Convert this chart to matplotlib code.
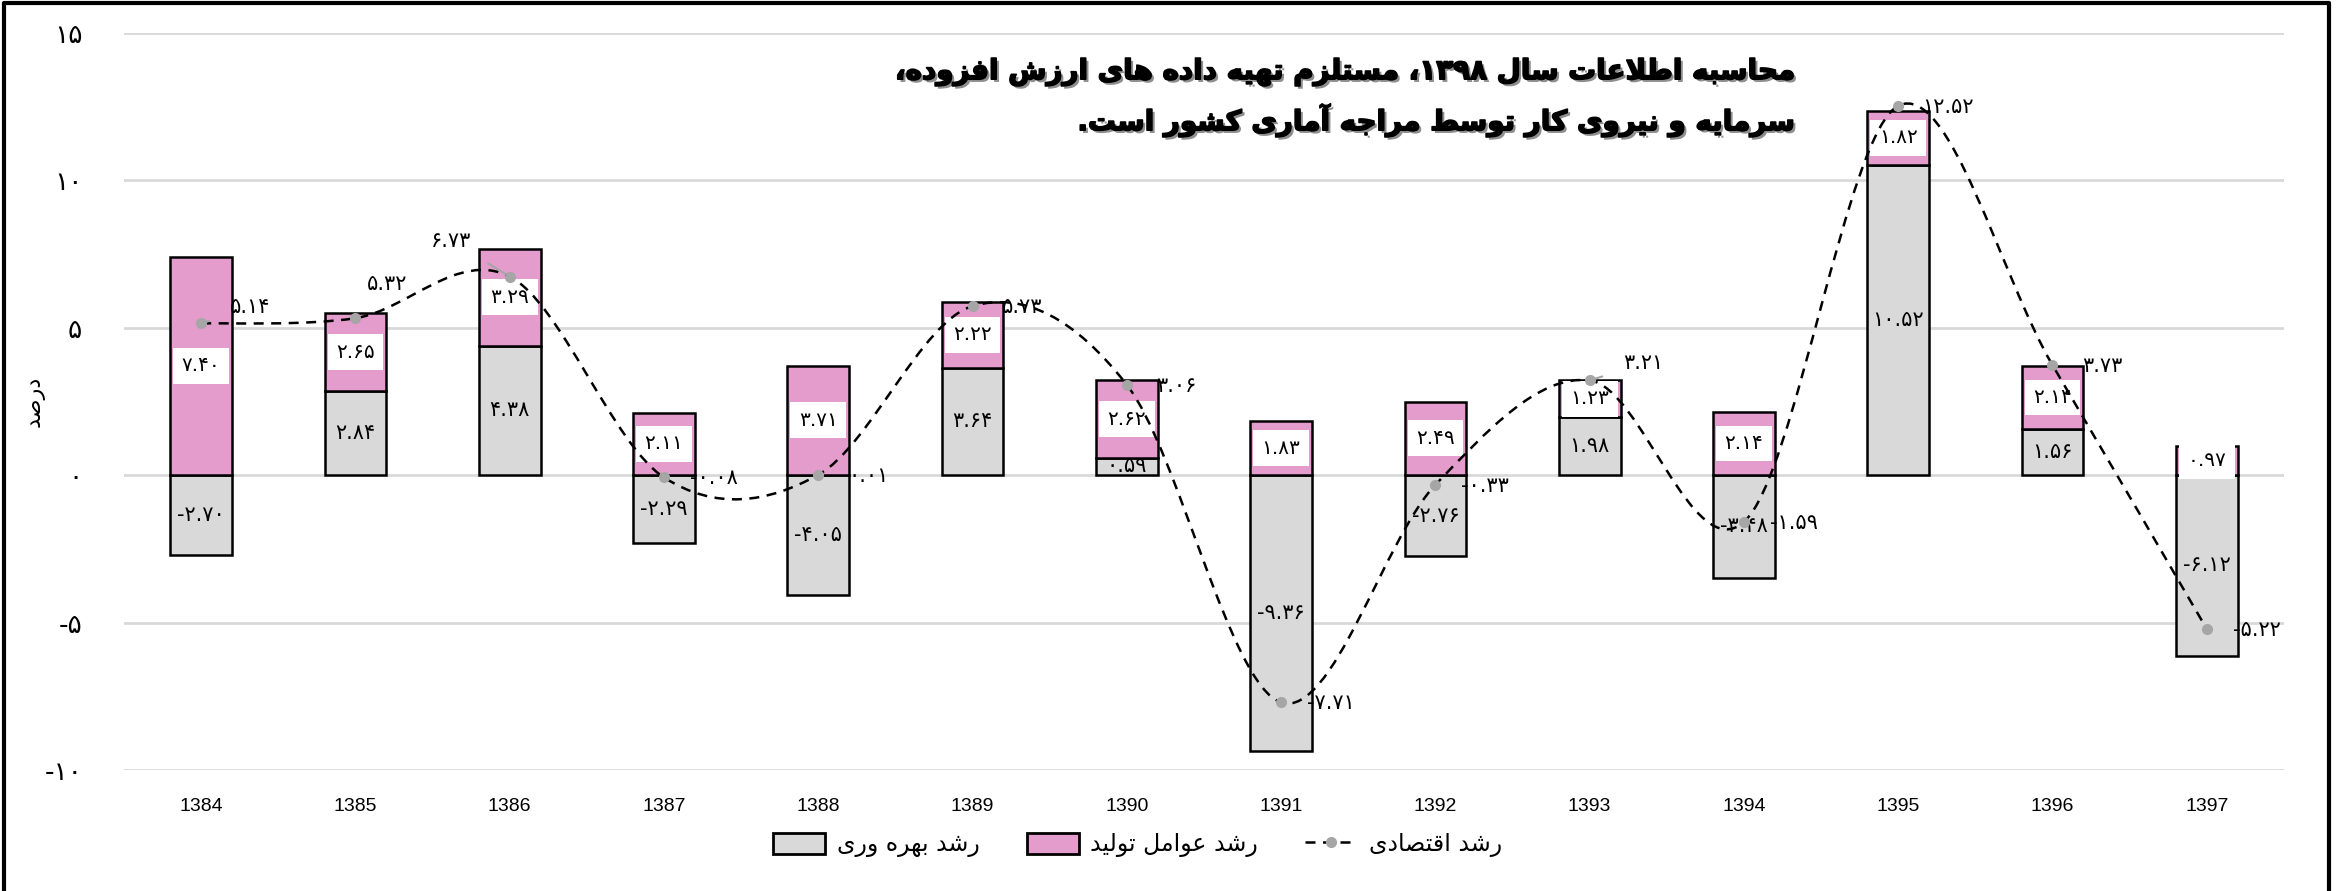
import re
import numpy as np
import matplotlib
matplotlib.use('Agg')
import matplotlib.pyplot as plt
import matplotlib.patheffects as pe
from matplotlib.path import Path
from matplotlib.patches import PathPatch, Patch
from matplotlib.lines import Line2D

# data
years = ['1384', '1385', '1386', '1387', '1388', '1389', '1390',
         '1391', '1392', '1393', '1394', '1395', '1396', '1397']
productivity = [-2.70, 2.84, 4.38, -2.29, -4.05, 3.64, 0.59,
                -9.36, -2.76, 1.98, -3.48, 10.52, 1.56, -6.12]
factors = [7.40, 2.65, 3.29, 2.11, 3.71, 2.22, 2.62,
           1.83, 2.49, 1.23, 2.14, 1.82, 2.14, 0.97]
economic = [5.14, 5.32, 6.73, -0.08, 0.01, 5.73, 3.06,
            -7.71, -0.33, 3.21, -1.59, 12.52, 3.73, -5.22]
y_ticks = [-10, -5, 0, 5, 10, 15]

name_productivity = 'رشد بهره وری'
name_factors = 'رشد عوامل تولید'
name_economic = 'رشد اقتصادی'
y_title = 'درصد'
title_lines = ['محاسبه اطلاعات سال ۱۳۹۸، مستلزم تهیه داده های ارزش افزوده،',
               'سرمایه و نیروی کار توسط مراجه آماری کشور است.']

GRAY = '#d9d9d9'
PINK = '#e49ccd'
MARK = '#a6a6a6'

# --- minimal persian shaping (matplotlib has no bidi / joining) ---
FORMS = {
    'ا': ('\uFE8D', '\uFE8E', None, None),
    'آ': ('\uFE81', '\uFE82', None, None),
    'ب': ('\uFE8F', '\uFE90', '\uFE91', '\uFE92'),
    'ت': ('\uFE95', '\uFE96', '\uFE97', '\uFE98'),
    'ج': ('\uFE9D', '\uFE9E', '\uFE9F', '\uFEA0'),
    'ح': ('\uFEA1', '\uFEA2', '\uFEA3', '\uFEA4'),
    'د': ('\uFEA9', '\uFEAA', None, None),
    'ر': ('\uFEAD', '\uFEAE', None, None),
    'ز': ('\uFEAF', '\uFEB0', None, None),
    'س': ('\uFEB1', '\uFEB2', '\uFEB3', '\uFEB4'),
    'ش': ('\uFEB5', '\uFEB6', '\uFEB7', '\uFEB8'),
    'ص': ('\uFEB9', '\uFEBA', '\uFEBB', '\uFEBC'),
    'ط': ('\uFEC1', '\uFEC2', '\uFEC3', '\uFEC4'),
    'ع': ('\uFEC9', '\uFECA', '\uFECB', '\uFECC'),
    'ف': ('\uFED1', '\uFED2', '\uFED3', '\uFED4'),
    'ق': ('\uFED5', '\uFED6', '\uFED7', '\uFED8'),
    'ل': ('\uFEDD', '\uFEDE', '\uFEDF', '\uFEE0'),
    'م': ('\uFEE1', '\uFEE2', '\uFEE3', '\uFEE4'),
    'ن': ('\uFEE5', '\uFEE6', '\uFEE7', '\uFEE8'),
    'ه': ('\uFEE9', '\uFEEA', '\uFEEB', '\uFEEC'),
    'و': ('\uFEED', '\uFEEE', None, None),
    'ک': ('\uFB8E', '\uFB8F', '\uFB90', '\uFB91'),
    'ی': ('\uFBFC', '\uFBFD', '\uFBFE', '\uFBFF'),
}
LAM_ALEF = {'ا': ('\uFEFB', '\uFEFC'), 'آ': ('\uFEF5', '\uFEF6')}


def shape(text):
    res = []
    i, n = 0, len(text)
    while i < n:
        c = text[i]
        prev = text[i - 1] if i > 0 else None
        joins_prev = prev in FORMS and FORMS[prev][2] is not None
        if c == 'ل' and i + 1 < n and text[i + 1] in LAM_ALEF:
            lig = LAM_ALEF[text[i + 1]]
            res.append(lig[1] if joins_prev else lig[0])
            i += 2
            continue
        if c in FORMS:
            iso, fin, ini, med = FORMS[c]
            nxt = text[i + 1] if i + 1 < n else None
            joins_next = ini is not None and nxt in FORMS
            if joins_prev and joins_next:
                res.append(med)
            elif joins_prev:
                res.append(fin)
            elif joins_next:
                res.append(ini)
            else:
                res.append(iso)
        else:
            res.append(c)
        i += 1
    return ''.join(res)


def fa(text):
    s = shape(text)
    parts = re.findall(r'\d+(?:\.\d+)*|\D+', s)
    return ''.join(p if p[0].isdigit() else p[::-1] for p in reversed(parts))


def fa_num(v, fmt='{:.2f}'):
    return fmt.format(v).translate(str.maketrans('0123456789', '۰۱۲۳۴۵۶۷۸۹'))


plt.rcParams['font.family'] = ['DejaVu Sans']

fig = plt.figure(figsize=(23.36, 8.91), dpi=100)
ax = fig.add_axes([0.0531, 0.1358, 0.9246, 0.8275])

x = np.arange(len(years))
prod = np.array(productivity)
fac = np.array(factors)
w = 0.4

# excel style stacking: positives on positives, negatives on negatives
prod_bottom = np.zeros(len(x))
pos_base = np.where(prod > 0, prod, 0)
neg_base = np.where(prod < 0, prod, 0)
fac_bottom = np.where(fac >= 0, pos_base, neg_base)

ax.bar(x, prod, w, bottom=prod_bottom, color=GRAY, edgecolor='black', linewidth=1.8, zorder=2)
ax.bar(x, fac, w, bottom=fac_bottom, color=PINK, edgecolor='black', linewidth=1.8, zorder=2)

for xi, v in zip(x, prod):
    ax.text(xi, v / 2, fa_num(v), ha='center', va='center', fontsize=15, zorder=4)
for xi, v, b in zip(x, fac, fac_bottom):
    ax.text(xi, b + v / 2, fa_num(v), ha='center', va='center', fontsize=14.5, zorder=4,
            bbox=dict(boxstyle='square,pad=0.42', fc='white', ec='none'))

# smoothed dashed line through the economic growth points
pts = np.column_stack([x, economic]).astype(float)
verts = [tuple(pts[0])]
codes = [Path.MOVETO]
for i in range(len(pts) - 1):
    p0 = pts[i - 1] if i > 0 else pts[i]
    p1, p2 = pts[i], pts[i + 1]
    p3 = pts[i + 2] if i + 2 < len(pts) else pts[i + 1]
    verts += [tuple(p1 + (p2 - p0) / 6), tuple(p2 - (p3 - p1) / 6), tuple(p2)]
    codes += [Path.CURVE4] * 3
ax.add_patch(PathPatch(Path(verts, codes), fill=False, ec='black', lw=1.8,
                       ls=(0, (4, 3)), zorder=5))
ax.plot(x, economic, ls='none', marker='o', ms=7, color=MARK, zorder=6)

# label offsets in pixels (dx, dy), leader flag
offsets = {0: (49, 16, True), 1: (32, 34, False), 2: (-59, 36, True), 9: (54, 17, True)}
for i, v in enumerate(economic):
    dx, dy, lead = offsets.get(i, (50, -1, False))
    ax.annotate(fa_num(v), (x[i], v), xytext=(dx * 0.72, dy * 0.72), textcoords='offset points',
                ha='center', va='center', fontsize=15, zorder=7,
                arrowprops=dict(arrowstyle='-', color='#a6a6a6', lw=1.5,
                                shrinkA=14, shrinkB=3) if lead else None)

ax.set_ylim(-10, 15)
ax.set_xlim(-0.5, len(x) - 0.5)
ax.set_yticks(y_ticks)
ax.set_yticklabels([fa_num(t, '{:d}') for t in y_ticks], fontsize=19)
ax.set_xticks(x)
ax.set_xticklabels(years, fontsize=14, family='Liberation Sans')
ax.tick_params(length=0)
ax.tick_params(axis='y', pad=30)
ax.tick_params(axis='x', pad=20)
ax.grid(axis='y', color=GRAY, lw=2, zorder=0)
ax.set_axisbelow(True)
for s in ax.spines.values():
    s.set_visible(False)
ax.set_ylabel(fa(y_title), fontsize=16)
ax.yaxis.set_label_coords(-0.037, 0.5)

for k, line in enumerate(title_lines):
    fig.text(0.768, 0.919 - k * 0.054, fa(line), ha='right', va='center', fontsize=20,
             fontweight='bold',
             path_effects=[pe.withSimplePatchShadow(offset=(2, -2), shadow_rgbFace='#606060', alpha=0.7),
                           pe.Stroke(linewidth=1.2, foreground='black'), pe.Normal()])

handles = [Patch(fc=GRAY, ec='black', lw=2), Patch(fc=PINK, ec='black', lw=2),
           Line2D([], [], color='black', ls=(0, (4, 3)), lw=1.8, marker='o', ms=7,
                  mfc=MARK, mec=MARK)]
fig.legend(handles, [fa(name_productivity), fa(name_factors), fa(name_economic)],
           loc='center', bbox_to_anchor=(0.487, 0.052), ncol=3, frameon=False, fontsize=17,
           handlelength=2.2, handleheight=1.0, columnspacing=2.0, handletextpad=0.5)

# outer frame (left, top, right)
fig.add_artist(Line2D([0.0015, 0.0015, 0.997, 0.997], [0, 0.997, 0.997, 0],
                      transform=fig.transFigure, color='black', lw=3))

fig.savefig('out.png', dpi=100)
